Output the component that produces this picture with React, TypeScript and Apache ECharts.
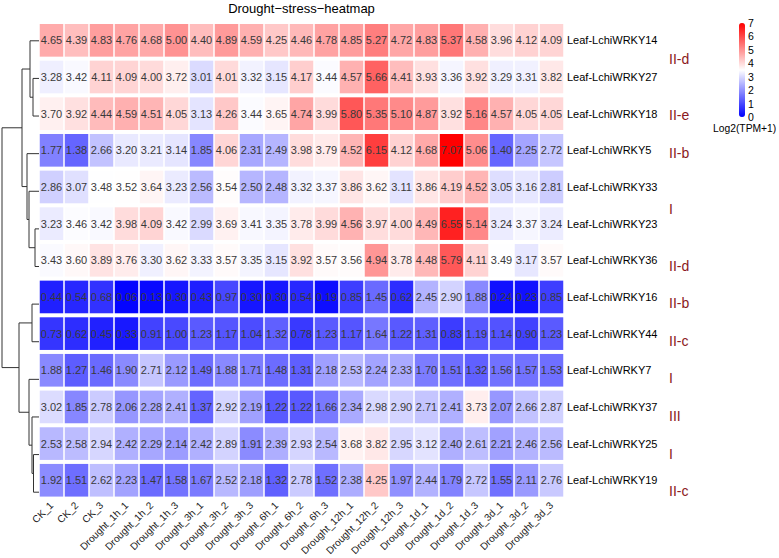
import React, { useEffect, useRef } from 'react';
import * as echarts from 'echarts';

const chartTitle = 'Drought−stress−heatmap';
const legendTitle = 'Log2(TPM+1)';

const samples = [
  'CK_1', 'CK_2', 'CK_3',
  'Drought_1h_1', 'Drought_1h_2', 'Drought_1h_3',
  'Drought_3h_1', 'Drought_3h_2', 'Drought_3h_3',
  'Drought_6h_1', 'Drought_6h_2', 'Drought_6h_3',
  'Drought_12h_1', 'Drought_12h_2', 'Drought_12h_3',
  'Drought_1d_1', 'Drought_1d_2', 'Drought_1d_3',
  'Drought_3d_1', 'Drought_3d_2', 'Drought_3d_3',
];

const genes = [
  'Leaf-LchiWRKY14', 'Leaf-LchiWRKY27', 'Leaf-LchiWRKY18', 'Leaf-LchiWRKY5',
  'Leaf-LchiWRKY33', 'Leaf-LchiWRKY23', 'Leaf-LchiWRKY36', 'Leaf-LchiWRKY16',
  'Leaf-LchiWRKY44', 'Leaf-LchiWRKY7', 'Leaf-LchiWRKY37', 'Leaf-LchiWRKY25',
  'Leaf-LchiWRKY19',
];

const wrky14 = [4.65, 4.39, 4.83, 4.76, 4.68, 5.00, 4.40, 4.89, 4.59, 4.25, 4.46, 4.78, 4.85, 5.27, 4.72, 4.83, 5.37, 4.58, 3.96, 4.12, 4.09];
const wrky27 = [3.28, 3.42, 4.11, 4.09, 4.00, 3.72, 3.01, 4.01, 3.32, 3.15, 4.17, 3.44, 4.57, 5.66, 4.41, 3.93, 3.36, 3.92, 3.29, 3.31, 3.82];
const wrky18 = [3.70, 3.92, 4.44, 4.59, 4.51, 4.05, 3.13, 4.26, 3.44, 3.65, 4.74, 3.99, 5.80, 5.35, 5.10, 4.87, 3.92, 5.16, 4.57, 4.05, 4.05];
const wrky5 = [1.77, 1.38, 2.66, 3.20, 3.21, 3.14, 1.85, 4.06, 2.31, 2.49, 3.98, 3.79, 4.52, 6.15, 4.12, 4.68, 7.07, 5.06, 1.40, 2.25, 2.72];
const wrky33 = [2.86, 3.07, 3.48, 3.52, 3.64, 3.23, 2.56, 3.54, 2.50, 2.48, 3.32, 3.37, 3.86, 3.62, 3.11, 3.86, 4.19, 4.52, 3.05, 3.16, 2.81];
const wrky23 = [3.23, 3.46, 3.42, 3.98, 4.09, 3.42, 2.99, 3.69, 3.41, 3.35, 3.78, 3.99, 4.56, 3.97, 4.00, 4.49, 6.55, 5.14, 3.24, 3.37, 3.24];
const wrky36 = [3.43, 3.60, 3.89, 3.76, 3.30, 3.62, 3.33, 3.57, 3.35, 3.15, 3.92, 3.57, 3.56, 4.94, 3.78, 4.48, 5.79, 4.11, 3.49, 3.17, 3.57];
const wrky16 = [0.44, 0.54, 0.68, 0.06, 0.13, 0.30, 0.43, 0.97, 0.30, 0.30, 0.54, 0.19, 0.85, 1.45, 0.62, 2.45, 2.90, 1.88, 0.24, 0.23, 0.85];
const wrky44 = [0.73, 0.62, 0.45, 0.33, 0.91, 1.00, 1.23, 1.17, 1.04, 1.32, 0.78, 1.23, 1.17, 1.64, 1.22, 1.31, 0.83, 1.19, 1.14, 0.90, 1.23];
const wrky7 = [1.88, 1.27, 1.46, 1.90, 2.71, 2.12, 1.49, 1.88, 1.71, 1.48, 1.31, 2.18, 2.53, 2.24, 2.33, 1.70, 1.51, 1.32, 1.56, 1.57, 1.53];
const wrky37 = [3.02, 1.85, 2.78, 2.06, 2.28, 2.41, 1.37, 2.92, 2.19, 1.22, 1.22, 1.66, 2.34, 2.98, 2.90, 2.71, 2.41, 3.73, 2.07, 2.66, 2.87];
const wrky25 = [2.53, 2.58, 2.94, 2.42, 2.29, 2.14, 2.42, 2.89, 1.91, 2.39, 2.93, 2.54, 3.68, 3.82, 2.95, 3.12, 2.40, 2.61, 2.21, 2.46, 2.56];
const wrky19 = [1.92, 1.51, 2.62, 2.23, 1.47, 1.58, 1.67, 2.52, 2.18, 1.32, 2.78, 1.52, 2.38, 4.25, 1.97, 2.44, 1.79, 2.72, 1.55, 2.11, 2.76];

const valueRows = [wrky14, wrky27, wrky18, wrky5, wrky33, wrky23, wrky36, wrky16, wrky44, wrky7, wrky37, wrky25, wrky19];

// subfamily labels and the row position they sit at
const groupNames = ['II-d', 'II-e', 'II-b', 'I', 'II-d', 'II-b', 'II-c', 'I', 'III', 'I', 'II-c'];
const groupRows = [0.5, 2, 3, 4.5, 6, 7, 8, 9, 10, 11, 12];

// hierarchical clustering merges: [childA, childB, height]; leaves 0..12, merge i => node 13+i
const dendroMerges: [number, number, number][] = [
  [1, 2, 6],
  [0, 13, 9],
  [5, 6, 4],
  [4, 15, 10],
  [3, 16, 12],
  [14, 17, 17],
  [7, 8, 7],
  [11, 12, 5.5],
  [10, 20, 7],
  [9, 21, 10],
  [19, 22, 20],
  [18, 23, 37],
];

const colorStops = ['#0000FF', '#FFFFFF', '#FF0000'];
const FONT = '"Liberation Sans", Arial, Helvetica, sans-serif';

const GRID_LEFT = 39;
const GRID_TOP = 22;
const GRID_W = 525;
const GRID_H = 489;

export default function App() {
  const ref = useRef<HTMLDivElement>(null);

  useEffect(() => {
    if (!ref.current) return;
    const chart = echarts.init(ref.current, null, { renderer: 'svg' });

    const cells: number[][] = [];
    valueRows.forEach((row, yi) => {
      row.forEach((v, xi) => {
        cells.push([xi, yi, v, Math.min(v, 7)]);
      });
    });

    // dendrogram segments
    const nLeaves = genes.length;
    const nodeY: number[] = genes.map((_, i) => i);
    const nodeH: number[] = genes.map(() => 0);
    const segs: { coords: number[][] }[] = [];
    dendroMerges.forEach(([a, b, h], i) => {
      const ya = nodeY[a], yb = nodeY[b];
      segs.push({ coords: [[nodeH[a], ya], [h, ya], [h, yb], [nodeH[b], yb]] });
      nodeY[nLeaves + i] = (ya + yb) / 2;
      nodeH[nLeaves + i] = h;
    });
    const maxH = Math.max(...dendroMerges.map((m) => m[2]));

    const pitch = GRID_H / genes.length;
    const groupGraphics = groupNames.map((name, i) => ({
      type: 'text',
      left: 669,
      top: GRID_TOP + pitch * (groupRows[i] + 0.5) - 8,
      silent: true,
      style: {
        text: name,
        fill: '#8B1A22',
        font: `14px ${FONT}`,
      },
    }));

    const option: any = {
      animation: false,
      backgroundColor: '#FFFFFF',
      textStyle: { fontFamily: FONT },
      title: {
        text: chartTitle,
        left: GRID_LEFT + GRID_W / 2,
        top: 2,
        textAlign: 'center',
        padding: 0,
        textStyle: { fontSize: 13, fontWeight: 'normal', color: '#000', fontFamily: FONT },
      },
      grid: [
        { left: GRID_LEFT, top: GRID_TOP, width: GRID_W, height: GRID_H },
        { left: 739, top: 23, width: 6, height: 94 },
        { left: 2, top: GRID_TOP, width: GRID_LEFT - 2, height: GRID_H },
      ],
      xAxis: [
        {
          type: 'category',
          gridIndex: 0,
          data: samples,
          axisLine: { show: false },
          axisTick: { show: false },
          splitLine: { show: false },
          axisLabel: { rotate: 45, fontSize: 10, color: '#222', margin: 5, interval: 0, fontFamily: FONT },
        },
        { type: 'value', gridIndex: 1, show: false, min: 0, max: 1 },
        { type: 'value', gridIndex: 2, show: false, min: 0, max: maxH, inverse: true },
      ],
      yAxis: [
        {
          type: 'category',
          gridIndex: 0,
          data: genes,
          inverse: true,
          position: 'right',
          axisLine: { show: false },
          axisTick: { show: false },
          splitLine: { show: false },
          axisLabel: { fontSize: 11, color: '#000', margin: 3, fontFamily: FONT },
        },
        {
          type: 'value',
          gridIndex: 1,
          min: 0,
          max: 7,
          interval: 1,
          position: 'right',
          axisLine: { show: false },
          axisTick: { show: false },
          splitLine: { show: false },
          axisLabel: { fontSize: 10.5, color: '#000', margin: 3, fontFamily: FONT },
        },
        { type: 'value', gridIndex: 2, show: false, min: -0.5, max: genes.length - 0.5, inverse: true },
      ],
      visualMap: {
        type: 'continuous',
        min: 0,
        max: 7,
        dimension: 3,
        seriesIndex: 0,
        show: true,
        calculable: false,
        hoverLink: false,
        left: 739,
        top: 23,
        itemWidth: 6,
        itemHeight: 94,
        padding: 0,
        orient: 'vertical',
        inRange: { color: colorStops },
      },
      series: [
        {
          type: 'custom',
          xAxisIndex: 0,
          yAxisIndex: 0,
          data: cells,
          silent: true,
          encode: { x: 0, y: 1 },
          renderItem: (params: any, api: any) => {
            const xi = api.value(0);
            const yi = api.value(1);
            const v = api.value(2);
            const c = api.coord([xi, yi]);
            const size = api.size([1, 1]);
            const w = size[0] - 1.5;
            const h = size[1] - 4;
            return {
              type: 'group',
              children: [
                {
                  type: 'rect',
                  shape: { x: c[0] - w / 2, y: c[1] - h / 2, width: w, height: h },
                  style: { fill: api.visual('color') },
                },
                {
                  type: 'text',
                  style: {
                    text: Number(v).toFixed(2),
                    x: c[0],
                    y: c[1],
                    align: 'center',
                    verticalAlign: 'middle',
                    fill: '#3a3a3a',
                    fontSize: 11,
                    fontFamily: FONT,
                  },
                },
              ],
            };
          },
        },
        {
          type: 'lines',
          coordinateSystem: 'cartesian2d',
          xAxisIndex: 2,
          yAxisIndex: 2,
          polyline: true,
          silent: true,
          data: segs,
          lineStyle: { color: '#333', width: 1, opacity: 1 },
        },
      ],
      graphic: [
        {
          type: 'text',
          left: 713,
          top: 123,
          silent: true,
          style: { text: legendTitle, fill: '#000', font: `10.3px ${FONT}` },
        },
        ...groupGraphics,
      ],
    };

    chart.setOption(option);
    return () => chart.dispose();
  }, []);

  return (
    <div
      ref={ref}
      style={{ position: 'fixed', left: 0, top: 0, width: 779, height: 558, background: '#fff' }}
    />
  );
}
